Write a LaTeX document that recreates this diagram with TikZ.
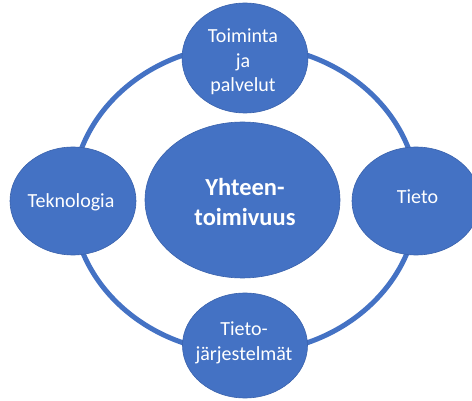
\documentclass[tikz,border=0pt]{standalone}
\usepackage{fontspec}
\setmainfont{Carlito}
\usetikzlibrary{shapes.geometric}
\definecolor{offblue}{HTML}{4472C4}
\definecolor{edgeblue}{HTML}{3A62AC}
\begin{document}
\begin{tikzpicture}[x=1pt,y=-1pt,
  bubble/.style={ellipse, fill=offblue, draw=edgeblue, line width=0.6pt, inner sep=0pt},
  txt/.style={text=white, align=center, inner sep=0pt, font=\fontsize{20}{24.5}\selectfont},
  bigtxt/.style={text=white, align=center, inner sep=0pt, font=\fontsize{24.5}{30}\selectfont\bfseries},
  ring/.style={draw=offblue, line width=5pt}]
\useasboundingbox (0,0) rectangle (472,401);
\coordinate (ringc) at (245,199);
\draw[ring] (ringc) ellipse [x radius=173pt, y radius=154pt];
\node[bubble, minimum width=126pt, minimum height=110pt] (toim) at (245,58) {};
\node[bubble, minimum width=126pt, minimum height=108pt] (tekn) at (73,201) {};
\node[bubble, minimum width=128pt, minimum height=108pt] (tieto) at (416,201) {};
\node[bubble, minimum width=125pt, minimum height=105pt] (tj) at (245,345.5) {};
\node[bubble, minimum width=195pt, minimum height=156pt] (yht) at (242.5,200) {};
\node[txt] (toimt) at (243,62) {Toiminta\\ja\\palvelut};
\node[txt] (teknt) at (71,202) {Teknologia};
\node[txt] (tietot) at (417.5,197) {Tieto};
\node[txt] (tjt) at (244,343) {Tieto-\\järjestelmät};
\node[bigtxt] (yhtt) at (245,201.5) {Yhteen-\\toimivuus};
\end{tikzpicture}
\end{document}
